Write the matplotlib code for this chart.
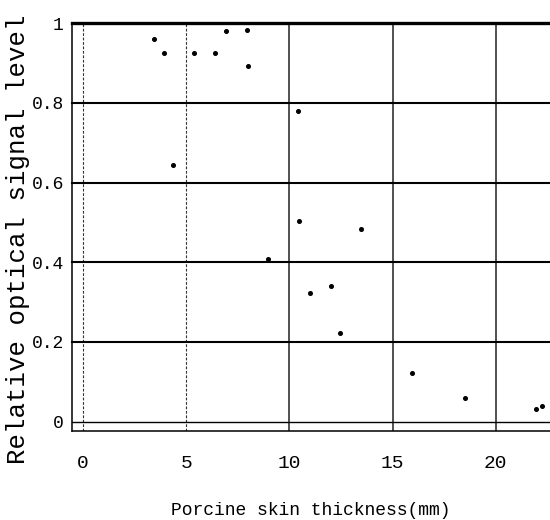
import matplotlib
matplotlib.use("Agg")
import matplotlib.pyplot as plt

# Data
thickness_mm = [3.45, 3.94, 5.40, 6.41, 6.95, 7.97, 8.00, 10.44, 4.34, 10.46,
                13.48, 8.97, 12.02, 11.01, 12.44, 15.93, 18.51, 21.95, 22.26]
signal_level = [0.960, 0.925, 0.926, 0.925, 0.980, 0.982, 0.892, 0.780, 0.644, 0.504,
                0.483, 0.408, 0.341, 0.322, 0.222, 0.121, 0.059, 0.031, 0.040]

x_ticks = [0, 5, 10, 15, 20]
x_tick_labels = ["0", "5", "10", "15", "20"]
y_ticks = [0, 0.2, 0.4, 0.6, 0.8, 1.0]
y_tick_labels = ["0", "0.2", "0.4", "0.6", "0.8", "1"]

FONT = "Liberation Mono"

fig = plt.figure(figsize=(5.5, 5.2), dpi=100)
ax = fig.add_axes([72 / 550, 89 / 520, 1 - 72 / 550, (431 - 23.3) / 520])

ax.set_xlim(-0.53, 22.63)
ax.set_ylim(-0.0235, 1.0)

# vertical grid: dashed for 0 and 5, solid for the rest
for xv in x_ticks:
    if xv < 10:
        ax.axvline(xv, color="#333333", lw=0.8, ls=(0, (2.5, 1.5)), zorder=1)
    else:
        ax.axvline(xv, color="#222222", lw=1.1, zorder=1)

# horizontal grid
for yv in y_ticks:
    if yv == 1.0:
        lw = 2.4
    elif yv == 0:
        lw = 1.0
    else:
        lw = 1.5
    ax.axhline(yv, color="black", lw=lw, zorder=1, clip_on=False)

ax.plot(thickness_mm, signal_level, linestyle="none", marker="o", ms=2.6,
        color="black", zorder=3, clip_on=False)

for s in ["top", "right"]:
    ax.spines[s].set_visible(False)
ax.spines["left"].set_linewidth(1.1)
ax.spines["bottom"].set_linewidth(1.1)

ax.set_xticks(x_ticks)
ax.set_xticklabels(x_tick_labels, fontfamily=FONT, fontsize=14)
ax.set_yticks(y_ticks)
ax.set_yticklabels(y_tick_labels, fontfamily=FONT, fontsize=13)
ax.tick_params(axis="x", length=0, pad=17)
ax.tick_params(axis="y", length=0, pad=6)

ax.set_xlabel("Porcine skin thickness(mm)", fontfamily=FONT, fontsize=13)
ax.xaxis.set_label_coords(0.5, -0.175)
ax.set_ylabel("Relative optical signal level", fontfamily=FONT, fontsize=18.5)
ax.yaxis.set_label_coords(-0.088, 0.47)

fig.savefig("out.png", dpi=100)
